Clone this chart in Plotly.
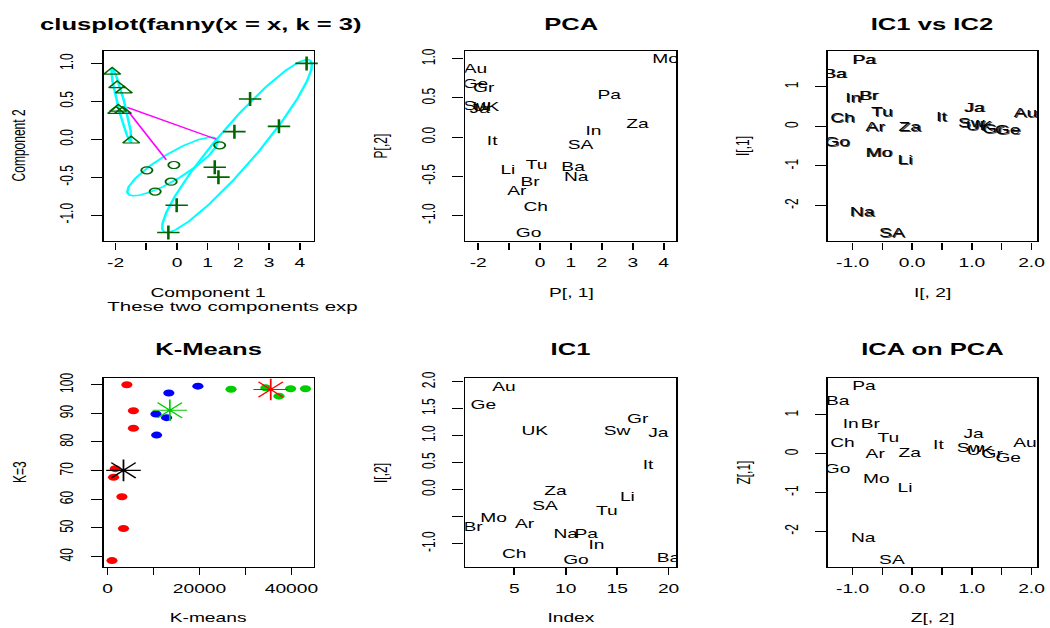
import numpy as np
import plotly.graph_objects as go

# ---------------- data ----------------
# Panel 1: clusplot(fanny(x = x, k = 3))
clus_tri_x = [-2.11, -1.945, -1.73, -1.91, -1.98, -1.76, -1.49]
clus_tri_y = [0.887, 0.71, 0.64, 0.40, 0.37, 0.37, -0.02]
clus_circ_x = [-0.98, -0.10, -0.19, -0.71, 1.39]
clus_circ_y = [-0.41, -0.34, -0.56, -0.69, -0.08]
clus_plus_x = [4.22, 2.38, 3.32, 1.87, 1.23, 1.35, -0.01, -0.28]
clus_plus_y = [1.00, 0.53, 0.17, 0.10, -0.37, -0.50, -0.87, -1.23]
# cluster ellipses: centre, semi-axis vector A, conjugate semi-axis vector B
ell_cx = [-1.81, -0.145, 1.955]
ell_cy = [0.45, -0.36, -0.09]
ell_ax = [-0.31, 1.475, 2.285]
ell_ay = [0.49, 0.33, 1.14]
ell_bx = [0.12, 0.0, 0.85]
ell_by = [0.0, 0.2, 0.0]
# segments between clusters
seg_x0 = [-1.62, -1.59]
seg_y0 = [0.42, 0.37]
seg_x1 = [1.28, -0.35]
seg_y1 = [0.00, -0.27]

# Panel 2: PCA
pca_lab = ["Au", "Ge", "Gr", "Sw", "UK", "Ja", "It", "Li", "Tu", "Br",
           "Ar", "Ch", "Go", "SA", "In", "Ba", "Na", "Pa", "Za", "Mo"]
pca_x = [-2.09, -2.09, -1.82, -2.05, -1.75, -1.95, -1.55, -1.04, -0.11, -0.32,
         -0.75, -0.14, -0.37, 1.31, 1.73, 1.07, 1.17, 2.24, 3.15, 4.06]
pca_y = [0.86, 0.66, 0.61, 0.38, 0.37, 0.34, -0.06, -0.43, -0.37, -0.59,
         -0.70, -0.90, -1.24, -0.12, 0.07, -0.39, -0.52, 0.52, 0.15, 0.99]

# Panel 3: IC1 vs IC2
ic_lab = ["Pa", "Ba", "In", "Br", "Ch", "Tu", "Ar", "Za", "It", "Go",
          "Mo", "Li", "Na", "SA", "Ja", "Au", "Sw", "UK", "Gr", "Ge"]
ic_x = [-0.81, -1.30, -0.99, -0.73, -1.17, -0.51, -0.62, -0.04, 0.49, -1.26,
        -0.56, -0.12, -0.84, -0.34, 1.04, 1.90, 0.99, 1.12, 1.35, 1.60]
ic_y = [1.66, 1.31, 0.68, 0.75, 0.18, 0.33, -0.05, -0.05, 0.20, -0.42,
        -0.69, -0.88, -2.19, -2.73, 0.45, 0.31, 0.06, -0.02, -0.09, -0.12]

# Panel 4: K-Means
km_red_x = [4190, 5616, 5616, 1663, 1296, 3110, 3456, 950]
km_red_y = [100.0, 90.9, 84.8, 70.7, 67.7, 60.9, 49.8, 38.6]
km_blue_x = [13326, 19654, 10518, 12829, 10670]
km_blue_y = [97.1, 99.5, 89.8, 88.5, 82.4]
km_green_x = [26868, 34428, 37300, 39827, 43067]
km_green_y = [98.4, 98.9, 96.0, 98.6, 98.6]
km_cent_x = [3456, 13542, 35508]
km_cent_y = [70.1, 91.1, 98.3]

# Panel 5: IC1 by index
ic1_idx = [1, 2, 3, 4, 5, 6, 7, 8, 9, 10, 11, 12, 13, 14, 15, 16, 17, 18, 19, 20]
ic1_lab = ["Br", "Ge", "Mo", "Au", "Ch", "Ar", "UK", "SA", "Za", "Na",
           "Go", "Pa", "In", "Tu", "Sw", "Li", "Gr", "It", "Ja", "Ba"]
ic1_val = [-0.72, 1.55, -0.54, 1.89, -1.21, -0.65, 1.06, -0.32, -0.05, -0.84,
           -1.32, -0.84, -1.04, -0.42, 1.06, -0.16, 1.29, 0.43, 1.03, -1.28]

# Panel 6: ICA on PCA
z_lab = ["Pa", "Ba", "In", "Br", "Ch", "Tu", "Ar", "Za", "It", "Go",
         "Mo", "Li", "Na", "SA", "Ja", "Au", "Sw", "UK", "Gr", "Ge"]
z_x = [-0.81, -1.25, -1.03, -0.70, -1.17, -0.40, -0.62, -0.04, 0.44, -1.25,
       -0.60, -0.12, -0.82, -0.34, 1.03, 1.89, 0.97, 1.14, 1.34, 1.61]
z_y = [1.71, 1.34, 0.73, 0.75, 0.26, 0.37, -0.04, 0.00, 0.20, -0.42,
       -0.67, -0.91, -2.20, -2.78, 0.48, 0.26, 0.13, 0.04, -0.03, -0.13]

# tick labels
t_pc_x = [-2, -1, 0, 1, 2, 3, 4]
t_pc_xt = ["-2", "", "0", "1", "2", "3", "4"]
t_pc_y = [-1.0, -0.5, 0.0, 0.5, 1.0]
t_pc_yt = ["-1.0", "-0.5", "0.0", "0.5", "1.0"]
t_ic_x = [-1.0, -0.5, 0.0, 0.5, 1.0, 1.5, 2.0]
t_ic_xt = ["-1.0", "", "0.0", "", "1.0", "", "2.0"]
t_ic_y = [-2, -1, 0, 1]
t_ic_yt = ["-2", "-1", "0", "1"]
t_km_x = [0, 10000, 20000, 30000, 40000]
t_km_xt = ["0", "", "20000", "", "40000"]
t_km_y = [40, 50, 60, 70, 80, 90, 100]
t_km_yt = ["40", "50", "60", "70", "80", "90", "100"]
t_i1_x = [5, 10, 15, 20]
t_i1_xt = ["5", "10", "15", "20"]
t_i1_y = [-1.0, -0.5, 0.0, 0.5, 1.0, 1.5, 2.0]
t_i1_yt = ["-1.0", "", "0.0", "0.5", "1.0", "1.5", "2.0"]

# ---------------- style / layout ----------------
FONT = "Liberation Sans"
W_OUT, H = 1050, 628
SX = 1.6                       # horizontal stretch of the reference raster
W = round(W_OUT / SX)
SX = W_OUT / W

COLS = [[103 / 1050, 315 / 1050], [468 / 1050, 681 / 1050], [834 / 1050, 1045 / 1050]]
ROWS = [[1 - 237 / 628, 1 - 44 / 628], [1 - 566.5 / 628, 1 - 375 / 628]]

DKGREEN = "#006400"

fig = go.Figure()

# Panel 1 ---------------------------------------------------------
t = np.linspace(0, 2 * np.pi, 241)
for i in range(len(ell_cx)):
    fig.add_trace(go.Scatter(
        x=ell_cx[i] + ell_ax[i] * np.cos(t) + ell_bx[i] * np.sin(t),
        y=ell_cy[i] + ell_ay[i] * np.cos(t) + ell_by[i] * np.sin(t),
        mode="lines", line=dict(color="#00FFFF", width=1.6),
        xaxis="x", yaxis="y", showlegend=False, hoverinfo="skip"))
sx, sy = [], []
for i in range(len(seg_x0)):
    sx += [seg_x0[i], seg_x1[i], None]
    sy += [seg_y0[i], seg_y1[i], None]
fig.add_trace(go.Scatter(x=sx, y=sy, mode="lines",
                         line=dict(color="#FF00FF", width=1.2),
                         xaxis="x", yaxis="y", showlegend=False))
fig.add_trace(go.Scatter(x=clus_tri_x, y=clus_tri_y, mode="markers",
                         marker=dict(symbol="triangle-up-open", size=9, color=DKGREEN,
                                     line=dict(width=1.2, color=DKGREEN)),
                         xaxis="x", yaxis="y", showlegend=False, cliponaxis=False))
fig.add_trace(go.Scatter(x=clus_circ_x, y=clus_circ_y, mode="markers",
                         marker=dict(symbol="circle-open", size=7, color=DKGREEN,
                                     line=dict(width=1.2, color=DKGREEN)),
                         xaxis="x", yaxis="y", showlegend=False, cliponaxis=False))
fig.add_trace(go.Scatter(x=clus_plus_x, y=clus_plus_y, mode="markers",
                         marker=dict(symbol="cross-thin-open", size=10, color=DKGREEN,
                                     line=dict(width=1.6, color=DKGREEN)),
                         xaxis="x", yaxis="y", showlegend=False, cliponaxis=False))

# Panel 2 ---------------------------------------------------------
TXT = dict(family=FONT, size=12, color="black")
fig.add_trace(go.Scatter(x=pca_x, y=pca_y, text=pca_lab, mode="text",
                         textposition="middle center", textfont=TXT,
                         xaxis="x2", yaxis="y2", showlegend=False))

# Panel 3 ---------------------------------------------------------
fig.add_trace(go.Scatter(x=ic_x, y=ic_y, text=ic_lab, mode="text",
                         textposition="middle center",
                         textfont=dict(family=FONT, size=12, color="black",
                                       shadow="1px 1px 0px #444444"),
                         xaxis="x3", yaxis="y3", showlegend=False))

# Panel 4 ---------------------------------------------------------
for xs, ys, col in [(km_red_x, km_red_y, "#FF0000"),
                    (km_blue_x, km_blue_y, "#0000FF"),
                    (km_green_x, km_green_y, "#00CD00")]:
    fig.add_trace(go.Scatter(x=xs, y=ys, mode="markers",
                             marker=dict(symbol="circle", size=7, color=col),
                             xaxis="x4", yaxis="y4", showlegend=False, cliponaxis=False))
fig.add_trace(go.Scatter(x=km_cent_x, y=km_cent_y, mode="markers",
                         marker=dict(symbol="asterisk-open", size=18,
                                     color=["#000000", "#00CD00", "#FF0000"],
                                     line=dict(width=1.1)),
                         xaxis="x4", yaxis="y4", showlegend=False, cliponaxis=False))

# Panel 5 ---------------------------------------------------------
fig.add_trace(go.Scatter(x=ic1_idx, y=ic1_val, text=ic1_lab, mode="text",
                         textposition="middle center", textfont=TXT,
                         xaxis="x5", yaxis="y5", showlegend=False))

# Panel 6 ---------------------------------------------------------
fig.add_trace(go.Scatter(x=z_x, y=z_y, text=z_lab, mode="text",
                         textposition="middle center", textfont=TXT,
                         xaxis="x6", yaxis="y6", showlegend=False))


def xax(dom, anchor, rng, vals, text):
    return dict(domain=dom, anchor=anchor, range=rng, tickvals=vals, ticktext=text,
                showline=True, mirror=True, linecolor="black", linewidth=1.4,
                ticks="outside", ticklen=7, tickwidth=1.2, tickcolor="black",
                showgrid=False, zeroline=False, ticklabelstandoff=3,
                tickfont=dict(family=FONT, size=12, color="black"))


def yax(dom, anchor, rng, vals, text):
    d = xax(dom, anchor, rng, vals, text)
    d.update(tickangle=-90, ticklabelstandoff=6)
    return d


panels = [
    # (col, row, xrange, yrange, xt, xtt, yt, ytt)
    (0, 0, [-2.387, 4.452], [-1.347, 1.17], t_pc_x, t_pc_xt, t_pc_y, t_pc_yt),
    (1, 0, [-2.417, 4.41], [-1.332, 1.105], t_pc_x, t_pc_xt, t_pc_y, t_pc_yt),
    (2, 0, [-1.412, 2.093], [-2.908, 1.918], t_ic_x, t_ic_xt, t_ic_y, t_ic_yt),
    (0, 1, [-860, 44860], [36.3, 102.4], t_km_x, t_km_xt, t_km_y, t_km_yt),
    (1, 1, [0.24, 20.76], [-1.44, 2.07], t_i1_x, t_i1_xt, t_i1_y, t_i1_yt),
    (2, 1, [-1.412, 2.093], [-2.93, 1.957], t_ic_x, t_ic_xt, t_ic_y, t_ic_yt),
]
lay = {}
for k, (c, r, xr, yr, xt, xtt, yt, ytt) in enumerate(panels, start=1):
    sfx = "" if k == 1 else str(k)
    lay["xaxis" + sfx] = xax(COLS[c], "y" + sfx, xr, xt, xtt)
    lay["yaxis" + sfx] = yax(ROWS[r], "x" + sfx, yr, yt, ytt)

titles = ["clusplot(fanny(x = x, k = 3)", "PCA", "IC1 vs IC2",
          "K-Means", "IC1", "ICA on PCA"]
xlabs = ["Component 1", "P[, 1]", "I[, 2]", "K-means", "Index", "Z[, 2]"]
ylabs = ["Component 2", "P[,2]", "I[,1]", "K=3", "I[,2]", "Z[,1]"]
title_y = [1 - 18 / 628, 1 - 346 / 628]
xlab_y = [1 - 289 / 628, 1 - 618 / 628]
ylab_x = [(103 - 86) / 1050, (468 - 86) / 1050, (834 - 86) / 1050]

ann = []
for k in range(6):
    c, r = k % 3, k // 3
    cx = (COLS[c][0] + COLS[c][1]) / 2
    tx = 201 / 1050 if k == 0 else cx
    ann.append(dict(text="<b>%s</b>" % titles[k], x=tx, y=title_y[r], xref="paper", yref="paper",
                    showarrow=False, xanchor="center", yanchor="middle",
                    font=dict(family=FONT, size=16, color="black")))
    ann.append(dict(text=xlabs[k], x=cx, y=xlab_y[r], xref="paper", yref="paper",
                    showarrow=False, xanchor="center", yanchor="middle",
                    font=dict(family=FONT, size=12, color="black")))
    ann.append(dict(text=ylabs[k], x=ylab_x[c], y=(ROWS[r][0] + ROWS[r][1]) / 2,
                    xref="paper", yref="paper", textangle=-90,
                    showarrow=False, xanchor="center", yanchor="middle",
                    font=dict(family=FONT, size=12, color="black")))
ann.append(dict(text="These two components exp", x=104 / 1050, y=1 - 303 / 628,
                xref="paper", yref="paper", showarrow=False,
                xanchor="left", yanchor="middle",
                font=dict(family=FONT, size=12.8, color="black")))

fig.update_layout(**lay)
fig.update_layout(width=W, height=H, autosize=False,
                  margin=dict(l=0, r=0, t=0, b=0),
                  paper_bgcolor="white", plot_bgcolor="white",
                  showlegend=False, annotations=ann,
                  font=dict(family=FONT, size=12, color="black"))

post = ("var gd=document.getElementById('{plot_id}');"
        "document.body.style.margin='0';document.body.style.overflow='hidden';"
        "gd.style.transformOrigin='0 0';gd.style.transform='scaleX(%.5f)';" % SX)
fig.write_html("out.html", post_script=post, config={"displayModeBar": False})
